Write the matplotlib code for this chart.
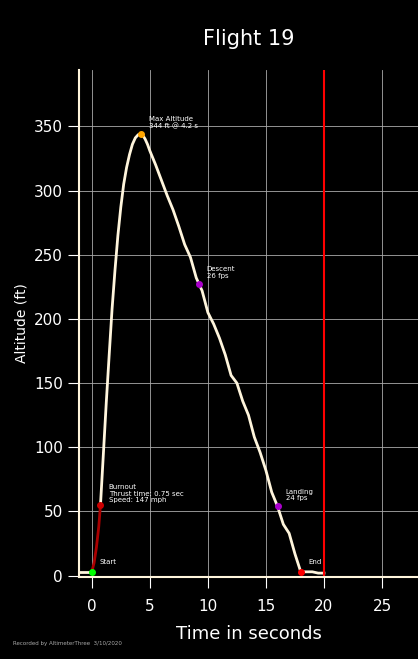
import matplotlib
matplotlib.use("Agg")
import matplotlib.pyplot as plt
import numpy as np

t_pre = [-1.0, -0.5, 0.0]
a_pre = [3, 3, 3]
t_burn = [0.0, 0.2, 0.4, 0.6, 0.75]
a_burn = [3, 10, 22, 38, 55]
t_flight = [0.75, 1.0, 1.25, 1.5, 1.75, 2.0, 2.25, 2.5, 2.75, 3.0, 3.25, 3.5, 3.75, 4.0, 4.2, 4.4, 4.6, 4.8,
            5.0, 5.5, 6.0, 6.5, 7.0, 7.5, 8.0, 8.5, 9.0,
            9.5, 10.0, 10.5, 11.0, 11.5, 12.0, 12.5, 13.0, 13.5, 14.0, 14.5, 15.0, 15.5, 16.0, 16.5, 17.0,
            17.5, 18.0, 18.5, 19.0, 19.5, 20.0]
a_flight = [55, 95, 135, 172, 208, 238, 265, 287, 305, 318, 328, 336, 341, 343.5, 344, 343, 340, 336,
            331, 320, 308, 296, 285, 272, 258, 248, 232,
            222, 205, 196, 185, 172, 156, 150, 136, 125, 108, 96, 82, 65, 54, 40, 33, 17, 3, 3, 3, 2, 2]
markers_t = [0.0, 0.75, 4.2, 9.2, 16.0, 18.0]
markers_a = [3, 55, 344, 227, 54, 3]
markers_c = ["#00ff00", "#cc0000", "orange", "#aa00cc", "#aa00cc", "red"]
labels = ["Start", "Burnout\nThrust time: 0.75 sec\nSpeed: 147 mph", "Max Altitude\n344 ft @ 4.2 s",
          "Descent\n26 fps", "Landing\n24 fps", "End"]

fig = plt.figure(figsize=(4.18, 6.59), dpi=100, facecolor="black")
ax = fig.add_axes([0.189, 0.1245, 0.811, 0.7695], facecolor="black")
ax.plot(t_pre, a_pre, color="#fff5dc", lw=2)
ax.plot(t_flight, a_flight, color="#fff5dc", lw=2)
ax.plot(t_burn, a_burn, color="#aa0000", lw=2)
ax.axvline(20, color="red", lw=1.5)
for x, y, c, l in zip(markers_t, markers_a, markers_c, labels):
    ax.plot(x, y, "o", color=c, ms=4, zorder=5)
    nl = l.count("\n")
    ax.annotate(l, (x, y), xytext=(x + 0.7, y + 5 + 4 * (nl > 0)), color="white", fontsize=5,
                va="bottom" if nl == 0 else "center", linespacing=1.1)
ax.set_xlim(-1.1, 28.1)
ax.set_ylim(-1, 394)
ax.set_xticks([0, 5, 10, 15, 20, 25])
ax.set_yticks([0, 50, 100, 150, 200, 250, 300, 350])
ax.grid(color="#aaaaaa", lw=0.6)
ax.tick_params(colors="white", labelsize=11, length=8)
ax.tick_params(axis="x", pad=8)
for s in ["top", "right"]:
    ax.spines[s].set_visible(False)
for s in ["left", "bottom"]:
    ax.spines[s].set_color("#fff5dc")
    ax.spines[s].set_linewidth(1.5)
ax.set_xlabel("Time in seconds", color="white", fontsize=13, labelpad=8)
ax.set_ylabel("Altitude (ft)", color="white", fontsize=10)
ax.set_title("Flight 19", color="white", fontsize=15, pad=18)
fig.text(0.03, 0.022, "Recorded by AltimeterThree  3/10/2020", color="#aaaaaa", fontsize=4)
fig.savefig("out.png", dpi=100, facecolor="black")
